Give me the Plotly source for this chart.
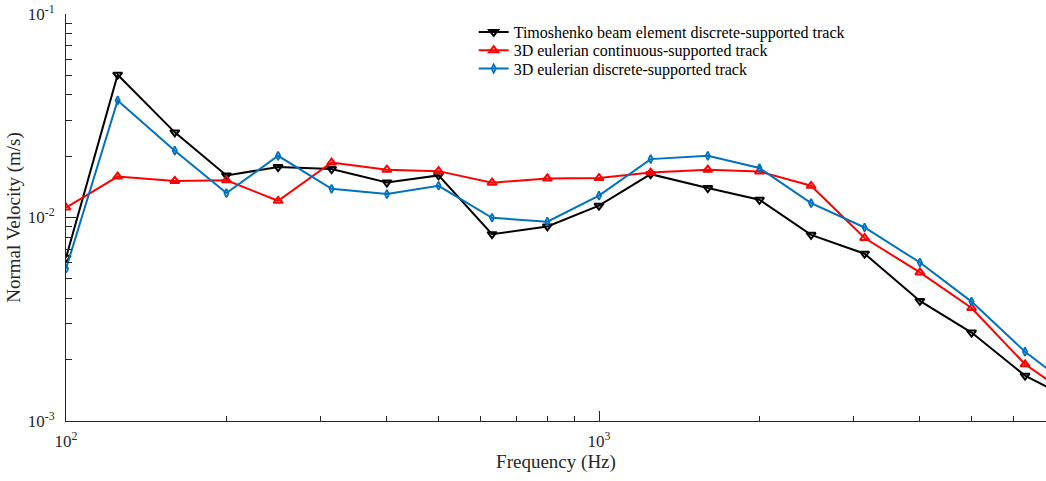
import plotly.graph_objects as go

# One-third octave band centre frequencies (Hz)
freq = [100, 125, 160, 200, 250, 315, 400, 500, 630, 800, 1000,
        1250, 1600, 2000, 2500, 3150, 4000, 5000, 6300, 8000]

# Normal velocity (m/s) for each track model
timoshenko = [0.00634, 0.0503, 0.0262, 0.0161, 0.0177, 0.0173, 0.01486, 0.0161,
              0.00828, 0.00904, 0.01143, 0.01633, 0.01396, 0.01222, 0.00822,
              0.00664, 0.00389, 0.00272, 0.00167, 0.00121]
euler_continuous = [0.01119, 0.0159, 0.01513, 0.01524, 0.01208, 0.01862, 0.01718,
                    0.0169, 0.01482, 0.01556, 0.01563, 0.01663, 0.01718, 0.01683,
                    0.01432, 0.00793, 0.00537, 0.00359, 0.0019, 0.00123]
euler_discrete = [0.0056, 0.0376, 0.0213, 0.01318, 0.0201, 0.01384, 0.01304,
                  0.01432, 0.00997, 0.00954, 0.0128, 0.01936, 0.0201, 0.0175,
                  0.01177, 0.00893, 0.00601, 0.00386, 0.00219, 0.00136]

names = ["Timoshenko beam element discrete-supported track",
         "3D eulerian continuous-supported track",
         "3D eulerian discrete-supported track"]

y_major = [1e-3, 1e-2, 1e-1]
y_major_text = ["10<sup>-3</sup>", "10<sup>-2</sup>", "10<sup>-1</sup>"]
x_major = [100, 1000]
x_major_text = ["10<sup>2</sup>", "10<sup>3</sup>"]

FONT = "Liberation Serif, Times New Roman, serif"
AXIS = "#262626"

# plot area: left 66 px, top 14 px, bottom 421 px
TOP, BOTTOM = 14, 421
legend_rows = [32, 50.3, 68.7]          # pixel row of each legend entry
legend_keys = ["legend", "legend2", "legend3"]

fig = go.Figure()
styles = [
    ("#000000", "triangle-down-open", 8, 2),
    ("#FF0000", "triangle-up-open", 8, 2),
    ("#0072BD", "diamond-tall-open", 6, 1.8),
]
for vals, name, (col, sym, sz, lw), lg in zip([timoshenko, euler_continuous, euler_discrete],
                                              names, styles, legend_keys):
    fig.add_trace(go.Scatter(
        x=freq, y=vals, name=name, mode="lines+markers",
        line=dict(color=col, width=2),
        marker=dict(symbol=sym, size=sz, color=col, line=dict(color=col, width=lw)),
        legend=lg,
    ))

x_minor = [v * d for d in (100, 1000) for v in range(2, 10)]
y_minor = [v * d for d in (1e-3, 1e-2) for v in range(2, 10)]

legend_style = dict(
    x=0.416, xanchor="left", yanchor="middle",
    bgcolor="rgba(0,0,0,0)", borderwidth=0,
    font=dict(family=FONT, size=16, color="#000000"),
    itemwidth=30,
)
legends = {}
for lg, row in zip(legend_keys, legend_rows):
    legends[lg] = dict(legend_style, y=(BOTTOM - row) / (BOTTOM - TOP))

fig.update_layout(
    width=1046, height=481,
    margin=dict(l=66, r=0, t=TOP, b=481 - BOTTOM),
    paper_bgcolor="white", plot_bgcolor="white",
    font=dict(family=FONT, size=17, color=AXIS),
    showlegend=True,
    **legends,
    xaxis=dict(
        type="log", range=[2, 2 + 980 / 533],
        showgrid=False, zeroline=False,
        showline=True, linecolor=AXIS, linewidth=1,
        ticks="inside", ticklen=10, tickwidth=1, tickcolor=AXIS,
        tickmode="array", tickvals=x_major, ticktext=x_major_text,
        tickfont=dict(family=FONT, size=17, color=AXIS),
        ticklabelstandoff=5,
        minor=dict(ticks="inside", ticklen=5, tickwidth=1, tickcolor=AXIS,
                   tickmode="array", tickvals=x_minor, showgrid=False),
        title=dict(text="Frequency (Hz)", font=dict(family=FONT, size=19, color=AXIS), standoff=3),
    ),
    yaxis=dict(
        type="log", range=[-3, -1],
        showgrid=False, zeroline=False,
        showline=True, linecolor=AXIS, linewidth=1,
        ticks="inside", ticklen=10, tickwidth=1, tickcolor=AXIS,
        tickmode="array", tickvals=y_major, ticktext=y_major_text,
        tickfont=dict(family=FONT, size=17, color=AXIS),
        ticklabelstandoff=7,
        minor=dict(ticks="inside", ticklen=6, tickwidth=1, tickcolor=AXIS,
                   tickmode="array", tickvals=y_minor, showgrid=False),
        title=dict(text="Normal Velocity (m/s)", font=dict(family=FONT, size=19, color=AXIS), standoff=2),
    ),
)

fig.write_html("out.html")
